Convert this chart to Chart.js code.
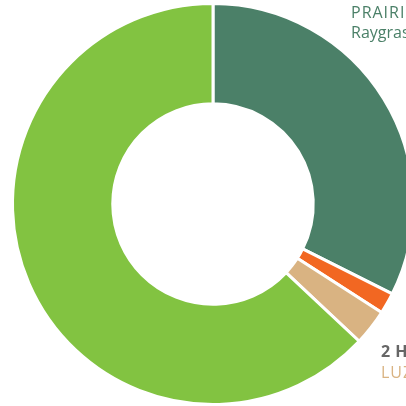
<!DOCTYPE html>
<html>
<head>
<meta charset="utf-8">
<style>
  html, body { margin: 0; padding: 0; background: #fff; overflow: hidden; }
  #wrap { width: 406px; height: 406px; overflow: hidden; }
</style>
<script src="https://cdn.jsdelivr.net/npm/chart.js@4"></script>
</head>
<body>
<div id="wrap"><canvas id="donut" width="420" height="410"></canvas></div>
<script>
(function () {
  'use strict';

  // Data (share of area, %)
  var categories = ['Prairies', 'Orge', 'Luzerne', 'Maïs'];
  var shares = [32.4, 1.7, 2.9, 63.0];
  var sliceColors = ['#4b8068', '#f26722', '#d9b382', '#82c341'];

  // Outer labels, partly cut off by the frame
  var labelLines = [
    { text: 'PRAIRIES', color: '#4b8068', weight: '400', x: 351, y: 18, spacing: '1px' },
    { text: 'Raygrass', color: '#4b8068', weight: '400', x: 351, y: 38, spacing: '0px' },
    { text: '2 HA', color: '#666666', weight: '700', x: 381, y: 357, spacing: '0.5px' },
    { text: 'LUZERNE', color: '#d9b382', weight: '400', x: 381, y: 378, spacing: '1px' }
  ];

  var outerLabels = {
    id: 'outerLabels',
    afterDraw: function (chart) {
      var c = chart.ctx;
      c.save();
      c.textAlign = 'left';
      c.textBaseline = 'alphabetic';
      labelLines.forEach(function (l) {
        c.font = l.weight + ' 16px "Open Sans", Lato, sans-serif';
        c.letterSpacing = l.spacing;
        c.fillStyle = l.color;
        c.fillText(l.text, l.x, l.y);
      });
      c.restore();
    }
  };

  var ctx = document.getElementById('donut').getContext('2d');
  new Chart(ctx, {
    type: 'doughnut',
    data: {
      labels: categories,
      datasets: [{
        data: shares,
        backgroundColor: sliceColors,
        borderColor: '#ffffff',
        borderWidth: 3,
        hoverOffset: 0
      }]
    },
    options: {
      responsive: false,
      animation: false,
      cutout: '50%',
      layout: { padding: { left: 11, right: 5, top: 2, bottom: 4 } },
      plugins: {
        legend: { display: false },
        tooltip: { enabled: false }
      }
    },
    plugins: [outerLabels]
  });
})();
</script>
</body>
</html>
